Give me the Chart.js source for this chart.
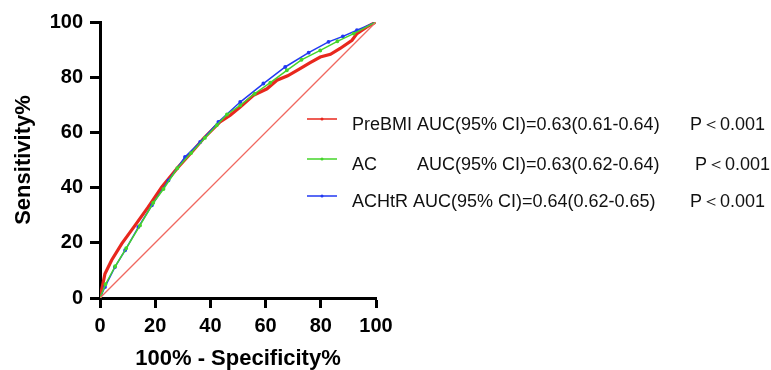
<!DOCTYPE html>
<html>
<head>
<meta charset="utf-8">
<script src="https://cdn.jsdelivr.net/npm/chart.js@4/dist/chart.umd.min.js"></script>
<style>
  html, body { margin: 0; padding: 0; background: #fff; }
  #roc { display: block; }
</style>
</head>
<body>
<canvas id="roc" width="771" height="370"></canvas>
<script>
// ROC curves: 100% - Specificity% (x) vs Sensitivity% (y)
const preBmiX = [0, 1.8, 4.2, 7.9, 12.7, 17.5, 22.4, 28.4, 33.3, 37.5, 43.5, 47.2, 50.8, 55.6, 60.5, 64.1, 68, 72.5, 76, 79.8, 83.5, 87, 91.3, 93.1, 96.7, 100];
const preBmiY = [0, 8.8, 13.7, 19.7, 26.3, 33, 40.2, 47.5, 52.9, 57.8, 63.8, 66.2, 69.2, 73.4, 75.8, 78.9, 80.5, 83.1, 85.2, 87.3, 88.3, 90.4, 93.4, 95.8, 98.2, 100];

const acX = [0, 2, 5.5, 9.5, 14.5, 19.3, 23, 28, 33, 38, 42.3, 46, 50.8, 56, 61.7, 67.7, 73, 79.8, 86, 91.9, 100];
const acY = [0, 5, 11.5, 18, 26.3, 34.5, 39.5, 47, 52.5, 58, 62.6, 66.5, 69.8, 74, 78, 82.5, 86.3, 89.7, 93, 95.8, 100];

const achtrX = [0, 1.8, 5.4, 9.1, 13.9, 18.8, 24.8, 30.8, 36.3, 42.9, 50.8, 59.2, 67.1, 75.6, 82.8, 88, 93.1, 100];
const achtrY = [0, 4, 11.2, 17.3, 25.7, 33.6, 42.6, 51.1, 56.5, 63.8, 71, 77.7, 83.7, 88.9, 92.8, 94.8, 97, 100];

const refX = [0, 100];
const refY = [0, 100];

const xTicks = [0, 20, 40, 60, 80, 100];
const yTicks = [0, 20, 40, 60, 80, 100];

const legendNames = ['PreBMI', 'AC', 'ACHtR'];
const legendAuc = ['AUC(95% CI)=0.63(0.61-0.64)', 'AUC(95% CI)=0.63(0.62-0.64)', 'AUC(95% CI)=0.64(0.62-0.65)'];
const legendP = ['P＜0.001', 'P＜0.001', 'P＜0.001'];

const RED = '#e8271d';
const GREEN = '#45d52a';
const BLUE = '#2239f2';
const DIAG = 'rgb(240, 104, 96)';
const FONT = '"Liberation Sans", Arial, Helvetica, sans-serif';

const toPoints = (xs, ys) => xs.map((x, i) => ({ x: x, y: ys[i] }));

// legend drawn by hand, three rows of text columns
const rocLegend = {
  id: 'rocLegend',
  afterDraw(chart) {
    const ctx = chart.ctx;
    const colors = [RED, GREEN, BLUE];
    const rows = [
      { line: 119, base: 130, auc: null, p: 690 },
      { line: 159, base: 170, auc: 417, p: 695 },
      { line: 196, base: 207, auc: null, p: 690 }
    ];
    ctx.save();
    ctx.font = '18px ' + FONT;
    ctx.textBaseline = 'alphabetic';
    ctx.textAlign = 'left';
    rows.forEach((row, i) => {
      ctx.strokeStyle = colors[i];
      ctx.lineWidth = 1.5;
      ctx.beginPath();
      ctx.moveTo(307, row.line);
      ctx.lineTo(337, row.line);
      ctx.stroke();
      ctx.fillStyle = colors[i];
      ctx.beginPath();
      ctx.arc(322, row.line, 1.5, 0, Math.PI * 2);
      ctx.fill();

      ctx.fillStyle = '#111';
      if (row.auc === null) {
        ctx.fillText(legendNames[i] + ' ' + legendAuc[i], 352, row.base);
      } else {
        ctx.fillText(legendNames[i], 352, row.base);
        ctx.fillText(legendAuc[i], row.auc, row.base);
      }
      ctx.fillText(legendP[i], row.p, row.base);
    });
    ctx.restore();
  }
};

const ctx = document.getElementById('roc').getContext('2d');
new Chart(ctx, {
  type: 'line',
  data: {
    datasets: [
      {
        label: 'Reference',
        data: toPoints(refX, refY),
        borderColor: DIAG,
        backgroundColor: DIAG,
        borderWidth: 1.3,
        pointRadius: 0
      },
      {
        label: legendNames[1],
        data: toPoints(acX, acY),
        borderColor: GREEN,
        backgroundColor: GREEN,
        borderWidth: 1.5,
        pointRadius: 1.2
      },
      {
        label: legendNames[2],
        data: toPoints(achtrX, achtrY),
        borderColor: BLUE,
        backgroundColor: BLUE,
        borderWidth: 1.5,
        pointRadius: 1.2
      },
      {
        label: legendNames[0],
        data: toPoints(preBmiX, preBmiY),
        borderColor: RED,
        backgroundColor: RED,
        borderWidth: 3.2,
        pointRadius: 0
      }
    ]
  },
  options: {
    responsive: false,
    animation: false,
    events: [],
    layout: { padding: { left: 0, top: 22, right: 395, bottom: 0 } },
    plugins: {
      legend: { display: false },
      tooltip: { enabled: false }
    },
    scales: {
      x: {
        type: 'linear',
        min: 0,
        max: 100,
        afterBuildTicks: (scale) => { scale.ticks = xTicks.map(v => ({ value: v })); },
        afterFit: (scale) => { scale.height = 72; },
        border: { color: '#000', width: 3 },
        grid: { drawOnChartArea: false, tickLength: 10, tickWidth: 3, tickColor: '#000' },
        ticks: { color: '#000', padding: 6, maxRotation: 0, font: { family: FONT, size: 20, weight: 'bold' } },
        title: {
          display: true,
          text: '100% - Specificity%',
          color: '#000',
          padding: 0,
          font: { family: FONT, size: 22, weight: 'bold', lineHeight: 1 }
        }
      },
      y: {
        type: 'linear',
        min: 0,
        max: 100,
        afterBuildTicks: (scale) => { scale.ticks = yTicks.map(v => ({ value: v })); },
        afterFit: (scale) => { scale.width = 100; },
        border: { color: '#000', width: 3 },
        grid: { drawOnChartArea: false, tickLength: 10, tickWidth: 3, tickColor: '#000' },
        ticks: { color: '#000', padding: 7, font: { family: FONT, size: 20, weight: 'bold' } },
        title: {
          display: true,
          text: 'Sensitivity%',
          color: '#000',
          padding: { top: 13, bottom: 0 },
          font: { family: FONT, size: 22, weight: 'bold', lineHeight: 1 }
        }
      }
    }
  },
  plugins: [rocLegend]
});
</script>
</body>
</html>
